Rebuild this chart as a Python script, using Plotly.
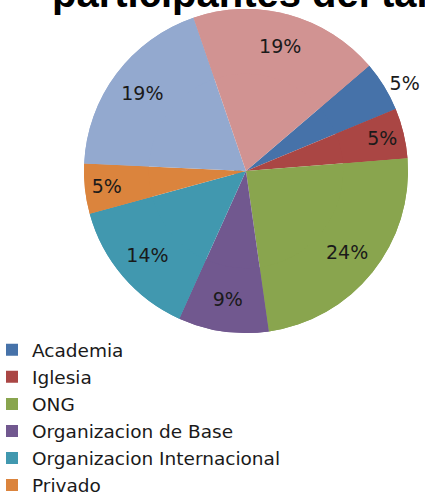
import plotly.graph_objects as go

categories = ["Academia", "Iglesia", "ONG", "Organizacion de Base",
              "Organizacion Internacional", "Privado", "Publico", "Sociedad Civil"]
percentages = [5, 5, 24, 9, 14, 5, 19, 19]
colors = ["#4672A9", "#AA4644", "#89A54E", "#71588F",
          "#4198AF", "#DB843D", "#93A9CF", "#D19392"]
label_positions = ["outside", "inside", "inside", "inside",
                   "inside", "inside", "inside", "inside"]
legend_count = 6  # entries visible in the cropped legend
title_text = "participantes del taller"

pie_domain = dict(x=[0.1976, 0.96], y=[0.3245, 0.9817])
label_font = dict(family="DejaVu Sans", size=19, color="#1a1a1a")

fig = go.Figure()

# legend carrier (hidden beneath the main pie)
fig.add_trace(go.Pie(
    labels=categories[:legend_count], values=percentages[:legend_count],
    marker=dict(colors=colors[:legend_count]),
    sort=False, direction="clockwise", textinfo="none", hoverinfo="skip",
    domain=dict(x=[0.55, 0.57], y=[0.64, 0.66]), showlegend=True,
))

# full pie (fills the centre)
fig.add_trace(go.Pie(
    labels=categories, values=percentages,
    marker=dict(colors=colors, line=dict(width=0)),
    sort=False, direction="clockwise", rotation=49.5,
    textinfo="none", domain=pie_domain, showlegend=False, hoverinfo="skip",
))

# ring on top carrying the labels further out, like the original
fig.add_trace(go.Pie(
    labels=categories, values=percentages, hole=0.6,
    marker=dict(colors=colors, line=dict(width=0)),
    sort=False, direction="clockwise", rotation=49.5,
    texttemplate="%{value}%", textposition=label_positions,
    insidetextorientation="horizontal",
    textfont=label_font,
    domain=pie_domain, showlegend=False,
))

fig.add_annotation(
    text=title_text, xref="paper", yref="paper", x=0.118, y=1.0,
    xanchor="left", yanchor="middle", yshift=7.5, showarrow=False,
    font=dict(family="Liberation Sans", size=40, color="#000000", weight="bold"),
)

fig.update_layout(
    width=425, height=493,
    margin=dict(l=0, r=0, t=0, b=0, autoexpand=False),
    paper_bgcolor="white", plot_bgcolor="white",
    uniformtext=dict(minsize=19, mode="show"),
    legend=dict(
        x=0, y=0.328, xanchor="left", yanchor="top", indentation=-8,
        font=dict(family="DejaVu Sans", size=18.5, color="#1a1a1a"),
        bgcolor="rgba(0,0,0,0)", traceorder="normal",
    ),
)

fig.write_html("out.html", config={"displayModeBar": False},
               post_script="document.body.style.margin='0';")
